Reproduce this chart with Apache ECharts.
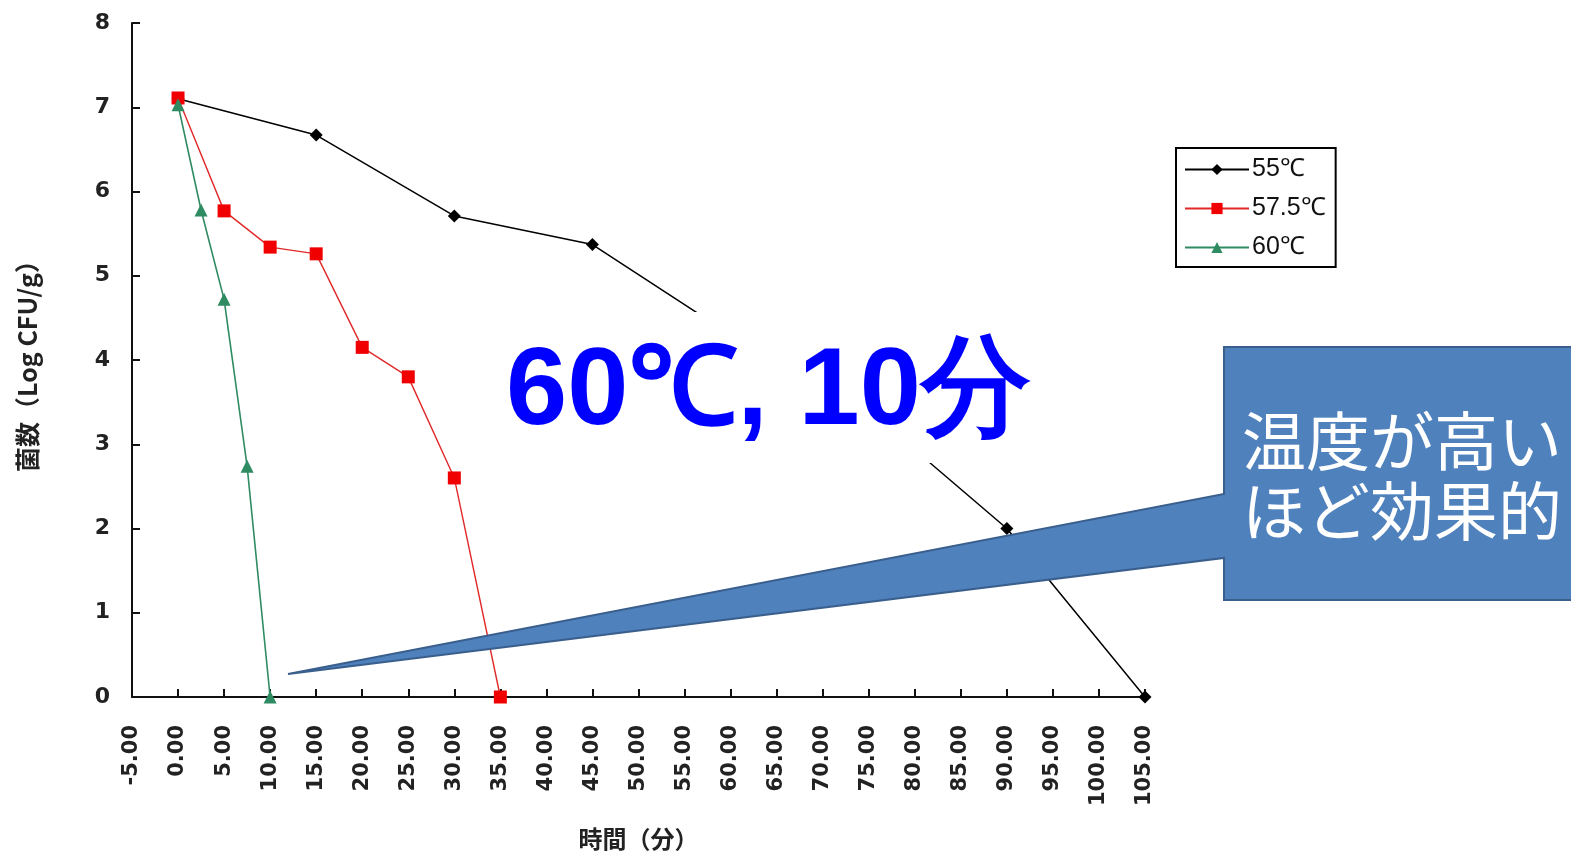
<!DOCTYPE html>
<html>
<head>
<meta charset="utf-8">
<script src="https://cdn.jsdelivr.net/npm/echarts@6/dist/echarts.min.js"></script>
<style>
  html, body { margin: 0; padding: 0; background: #fff; }
  #chart { width: 1571px; height: 858px; }
</style>
</head>
<body>
<div id="chart"></div>
<script>
// 加熱時間 (分) と菌数 (Log CFU/g)
const time55 = [0, 15, 30, 45, 60, 75, 90, 105]
const log55 = [7.1, 6.67, 5.71, 5.37, 4.3, 3.4, 2.0, 0]
const time575 = [0, 5, 10, 15, 20, 25, 30, 35]
const log575 = [7.11, 5.77, 5.34, 5.26, 4.15, 3.8, 2.6, 0]
const time60 = [0, 2.5, 5, 7.5, 10]
const log60 = [7.03, 5.78, 4.72, 2.74, 0]
const seriesNames = ["55℃", "57.5℃", "60℃"]

const pairs = (xs, ys) => xs.map((x, i) => [x, ys[i]])

const axisFont = "DejaVu Sans"
const blue = "#4f81bd"

const option = {
  animation: false,
  backgroundColor: "#fff",
  grid: { left: 132, right: 426, top: 23, bottom: 161, outerBoundsMode: "none" },
  legend: {
    orient: "vertical",
    left: 1176,
    top: 148,
    padding: [9, 10, 7, 8],
    itemGap: 14,
    itemWidth: 64,
    itemHeight: 14,
    borderColor: "#000",
    borderWidth: 2,
    textStyle: { fontFamily: "Liberation Sans", fontSize: 25, color: "#111", padding: [0, 0, 0, -2] },
    data: seriesNames
  },
  xAxis: {
    type: "value",
    min: -5,
    max: 105,
    interval: 5,
    name: "時間（分）",
    nameLocation: "middle",
    nameGap: 130,
    nameTextStyle: { fontFamily: "Noto Sans CJK JP", fontSize: 24, fontWeight: "bold", color: "#222" },
    splitLine: { show: false },
    axisLine: { onZero: false, lineStyle: { color: "#111", width: 2 } },
    axisTick: { inside: true, length: 8, lineStyle: { color: "#111", width: 2 } },
    axisLabel: {
      rotate: 90,
      margin: 28,
      fontFamily: axisFont,
      fontSize: 21,
      fontWeight: "bold",
      color: "#222",
      formatter: (v) => v.toFixed(2)
    }
  },
  yAxis: {
    type: "value",
    min: 0,
    max: 8,
    interval: 1,
    name: "菌数（Log CFU/g）",
    nameLocation: "middle",
    nameGap: 92,
    nameTextStyle: { fontFamily: "Noto Sans CJK JP", fontSize: 25, fontWeight: "bold", color: "#222" },
    splitLine: { show: false },
    axisLine: { show: true, onZero: false, lineStyle: { color: "#111", width: 2 } },
    axisTick: { show: true, inside: true, length: 8, lineStyle: { color: "#111", width: 2 } },
    axisLabel: { margin: 22, fontFamily: axisFont, fontSize: 22, fontWeight: "bold", color: "#222" }
  },
  series: [
    {
      name: seriesNames[0],
      type: "line",
      data: pairs(time55, log55),
      symbol: "diamond",
      symbolSize: 13,
      itemStyle: { color: "#000" },
      lineStyle: { color: "#000", width: 1.5 },
      z: 3
    },
    {
      name: seriesNames[1],
      type: "line",
      data: pairs(time575, log575),
      symbol: "rect",
      symbolSize: 13,
      itemStyle: { color: "#f00000" },
      lineStyle: { color: "#e02828", width: 1.4 },
      z: 4
    },
    {
      name: seriesNames[2],
      type: "line",
      data: pairs(time60, log60),
      symbol: "triangle",
      symbolSize: 13,
      itemStyle: { color: "#2e8b62" },
      lineStyle: { color: "#2e8b62", width: 1.6 },
      z: 5
    }
  ],
  graphic: [
    {
      type: "rect",
      shape: { x: 490, y: 312, width: 545, height: 151 },
      style: { fill: "#fff" },
      z: 100
    },
    {
      type: "text",
      x: 506,
      y: 394,
      style: {
        text: "60℃, 10分",
        fill: "#0000ff",
        fontFamily: "Liberation Sans",
        fontWeight: "bold",
        fontSize: 110,
        verticalAlign: "middle"
      },
      z: 101
    },
    {
      type: "polygon",
      shape: {
        points: [[1224, 347], [1575, 347], [1575, 600], [1224, 600], [1224, 558], [288, 674], [1224, 494]]
      },
      style: { fill: blue, stroke: "#3a5f8d", lineWidth: 2 },
      z: 102
    },
    {
      type: "text",
      x: 1242,
      y: 476,
      style: {
        text: "温度が高い\nほど効果的",
        fill: "#fff",
        fontFamily: "Noto Sans CJK JP",
        fontSize: 64,
        lineHeight: 70,
        verticalAlign: "middle"
      },
      z: 103
    }
  ]
}

const chart = echarts.init(document.getElementById("chart"))
chart.setOption(option)
</script>
</body>
</html>
